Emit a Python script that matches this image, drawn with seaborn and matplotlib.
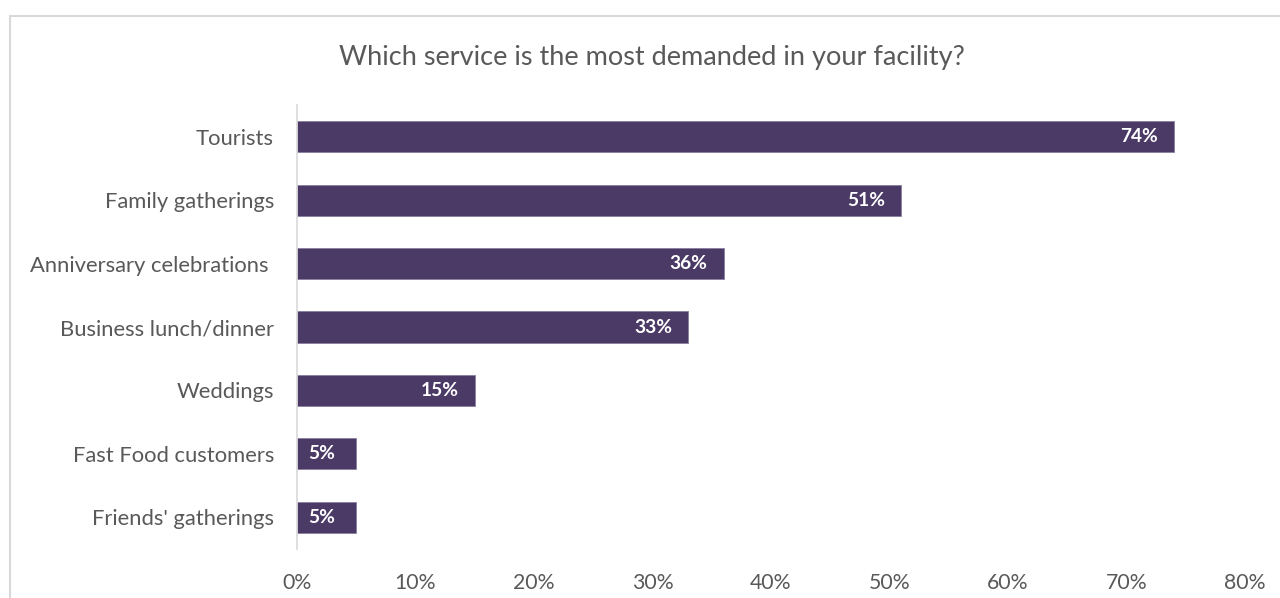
import matplotlib
matplotlib.use("Agg")
import matplotlib.pyplot as plt
from matplotlib.lines import Line2D
import seaborn as sns
import pandas as pd

categories = [
    "Tourists",
    "Family gatherings",
    "Anniversary celebrations ",
    "Business lunch/dinner",
    "Weddings",
    "Fast Food customers",
    "Friends' gatherings",
]
shares = [74, 51, 36, 33, 15, 5, 5]
x_ticks = [0, 10, 20, 30, 40, 50, 60, 70, 80]
title = "Which service is the most demanded in your facility?"

sns.set_theme(style="white")
plt.rcParams["font.family"] = ["Lato", "DejaVu Sans"]

text_grey = "#595959"
bar_color = "#4B3A66"
line_grey = "#D9D9D9"

df = pd.DataFrame({"service": categories, "share": shares})

fig = plt.figure(figsize=(12.8, 5.98), dpi=100)
ax = fig.add_axes([297 / 1280, 1 - 549 / 598, (1245 - 297) / 1280, (549 - 105) / 598])

sns.barplot(data=df, y="service", x="share", orient="h", color=bar_color,
            width=0.49, saturation=1, edgecolor="#8a7ea0", linewidth=0.6, ax=ax)

ax.set_xlim(0, 80)
ax.set_ylim(len(categories) - 0.5, -0.5)
ax.set_xticks(x_ticks)
ax.set_xticklabels([f"{t}%" for t in x_ticks])
ax.set_xlabel("")
ax.set_ylabel("")
ax.tick_params(axis="x", length=0, pad=17, labelsize=15.3, labelcolor=text_grey)
ax.tick_params(axis="y", length=0, pad=16.5, labelsize=15.8, labelcolor=text_grey)

for side in ["top", "right", "bottom"]:
    ax.spines[side].set_visible(False)
ax.spines["left"].set_color(line_grey)
ax.spines["left"].set_linewidth(1.2)

# value labels inside the bar end (small bars get them near the start)
for i, v in enumerate(shares):
    if v >= 10:
        ax.annotate(f"{v}%", xy=(v, i), xytext=(-11.5, 0), textcoords="offset points",
                    ha="right", va="center", color="white", fontsize=13.8,
                    fontweight="bold")
    else:
        ax.annotate(f"{v}%", xy=(0, i), xytext=(8, 0), textcoords="offset points",
                    ha="left", va="center", color="white", fontsize=13.8,
                    fontweight="bold")

fig.text(652 / 1280, 1 - 57 / 598, title, ha="center", va="center",
         fontsize=19.5, color=text_grey)

# outer chart frame (top and left edges)
fig.add_artist(Line2D([10 / 1280, 1.0], [1 - 16 / 598, 1 - 16 / 598],
                      transform=fig.transFigure, color=line_grey, linewidth=1.5))
fig.add_artist(Line2D([10 / 1280, 10 / 1280], [0.0, 1 - 16 / 598],
                      transform=fig.transFigure, color=line_grey, linewidth=1.5))

fig.savefig("out.png", dpi=100, facecolor="white")
